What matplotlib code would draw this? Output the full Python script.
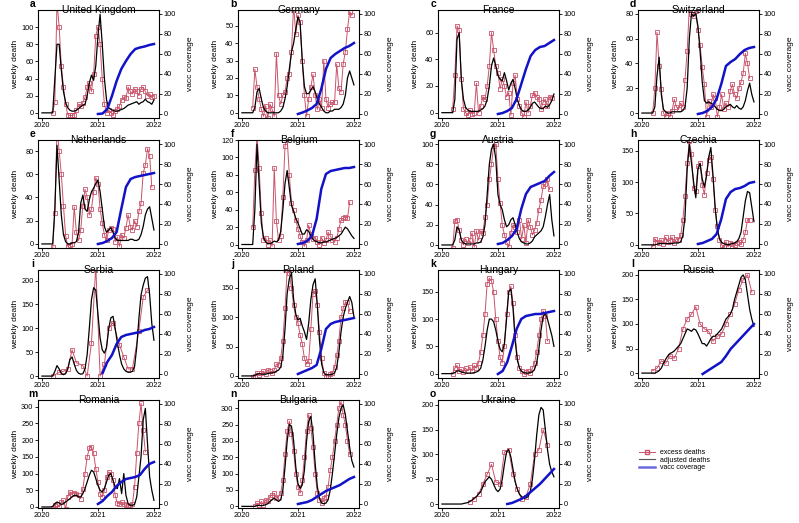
import numpy as np
import matplotlib
matplotlib.use("Agg")
import matplotlib.pyplot as plt
from matplotlib.lines import Line2D

plt.rcParams['font.family'] = ['Liberation Sans', 'DejaVu Sans']

N = None
# biweekly time grid (2020.0 .. 2022.0) and monthly grid for vaccination
weeks = 2020 + np.arange(53) / 26.0
months = 2021 + np.arange(13) / 12.0

# ---- a United Kingdom
uk_excess = [N, N, N, N, N, 0, 13, 130, 100, 55, 30, 10, -2,
             -3, -3, -2, 3, 10, 8, 12, 18, 30, 35, 25, 45, 90,
             100, 80, 40, 10, 0, 3, 0, -2, 2, 5, 8, 15, 18,
             17, 30, 25, 22, 28, 25, 20, 28, 30, 25, 20, 22, 18,
             20]
uk_adjusted = [0, 0, 0, 0, 0, 0, 40, 80, 80, 50, 25, 12, 6,
               3, 2, 2, 3, 5, 7, 9, 10, 20, 35, 44, 38, 55,
               90, 115, 80, 40, 15, 6, 4, 3, 2, 2, 3, 4, 5,
               7, 9, 10, 11, 12, 13, 10, 12, 13, 16, 13, 12, 10,
               15]
uk_vacc = [0, 0.5, 5, 18, 33, 45, 53, 60, 65, 66.5, 67.5, 69, 70]

# ---- b Germany
de_excess = [N, N, N, N, N, 3, 25, 15, 8, 2, -2, 4, -3,
             5, 2, -2, 34, 10, 5, 10, 12, 20, 22, 35, 62, 45,
             56, 52, 30, 10, -2, 8, 15, 22, 10, 2, 8, 3, 30,
             8, 3, 5, 6, 6, 28, 14, 12, 28, 35, 48, 58, 56,
             N]
de_adjusted = [0, 0, 0, 0, 0, 0, 3, 12, 14, 8, 3, 1, 0,
               0, 0, 0, 0, 0, 1, 3, 8, 15, 25, 35, 40, 48,
               55, 52, 30, 15, 11, 11, 13, 15, 12, 8, 5, 3, 1,
               0, 0, 1, 1, 2, 2, 2, 3, 5, 10, 20, 24, 20,
               16]
de_vacc = [0, 1.5, 3.5, 6, 10, 25, 45, 56, 60, 63, 66, 68, 71]

# ---- c France
fr_excess = [N, N, N, N, N, 3, 28, 65, 62, 25, 3, 0, -2,
             2, -1, 0, 22, 0, 5, 12, 10, 20, 35, 60, 47, 35,
             30, 18, 25, 20, 12, 15, -2, 22, 28, 10, 5, 0, -3,
             8, 0, 5, 13, 15, 12, 10, 3, 8, 10, 5, 12, 11,
             N]
fr_adjusted = [0, 0, 0, 0, 0, 0, 10, 55, 60, 25, 10, 4, 2,
               1, 1, 1, 1, 1, 2, 3, 5, 10, 20, 35, 41, 35,
               28, 25, 24, 30, 24, 17, 22, 25, 18, 10, 5, 2, 1,
               1, 2, 4, 7, 8, 6, 4, 3, 3, 5, 4, 6, 9,
               14]
fr_vacc = [0, 1, 3, 6, 15, 30, 45, 58, 64, 67, 68, 71, 74]

# ---- d Switzerland
ch_excess = [N, N, N, N, N, 0, 20, 65, 38, 19, 0, -3, 0,
             -3, 2, 11, 5, 3, 8, 5, 27, 50, 85, 80, 78, 82,
             67, 55, 37, 23, -3, 10, 5, 15, 12, -3, 5, 15, 3,
             8, 5, 18, 23, 15, 12, 20, 25, 32, 48, 40, 28, N,
             N]
ch_adjusted = [0, 0, 0, 0, 0, 0, 5, 30, 45, 15, 3, 1, 0,
               0, 1, 1, 1, 1, 1, 2, 5, 20, 60, 80, 78, 80,
               70, 50, 25, 10, 8, 9, 8, 7, 5, 3, 2, 2, 3,
               5, 6, 7, 5, 4, 6, 4, 3, 5, 10, 18, 24, 15,
               9]
ch_vacc = [0, 1, 3, 7, 15, 30, 48, 52, 55, 60, 64, 66, 67]

# ---- e Netherlands
nl_excess = [N, N, N, N, N, -3, 27, 100, 80, 60, 33, 7, -2,
             -1, 0, 32, 10, 3, 12, 33, 47, 40, 25, 30, 45, 57,
             52, 30, 18, 8, 3, 12, 14, 13, 2, 6, -2, 8, 5,
             14, 25, 15, 12, 20, 15, 28, 35, 61, 68, 82, 76, 49,
             N]
nl_adjusted = [0, 0, 0, 0, 0, 0, 30, 85, 55, 25, 8, 2, 0,
               0, 1, 1, 2, 10, 35, 42, 30, 28, 38, 45, 48, 52,
               55, 45, 30, 15, 10, 12, 14, 10, 5, 3, 3, 3, 3,
               3, 3, 4, 4, 3, 3, 4, 8, 15, 25, 30, 32, 22,
               12]
nl_vacc = [0, 1, 3, 6, 12, 35, 57, 65, 67, 68, 69, 70, 71]

# ---- f Belgium
be_excess = [N, N, N, N, N, 20, 85, 125, 88, 36, 5, 8, 0,
             5, -2, 88, 27, 5, 10, 55, 113, 122, 80, 48, 40, 28,
             18, 10, 3, -2, 5, 22, 12, 6, 8, 3, 0, 8, 2,
             5, 14, 10, 5, 3, 8, 18, 28, 30, 32, 30, 49, N,
             N]
be_adjusted = [0, 0, 0, 0, 0, 0, 40, 115, 70, 25, 8, 3, 1,
               1, 2, 4, 3, 5, 15, 40, 70, 85, 65, 45, 38, 30,
               25, 18, 12, 12, 17, 15, 10, 6, 4, 3, 2, 2, 3,
               3, 4, 5, 6, 7, 8, 10, 12, 16, 20, 18, 14, 10,
               7]
be_vacc = [0, 1, 3, 8, 25, 55, 70, 73, 74, 75, 76, 76, 77]

# ---- g Austria
at_excess = [N, N, N, N, N, -3, 24, 25, 15, 5, 0, 6, 2,
             5, 12, -2, 14, 5, 14, 12, 28, 40, 65, 80, 98, 100,
             65, 42, 20, 10, 3, -2, 12, 20, 18, 13, 25, 6, 20,
             2, 25, 18, 10, 15, 22, 35, 45, 58, 60, 65, 55, N,
             N]
at_adjusted = [0, 0, 0, 0, 0, 0, 5, 18, 15, 5, 2, 1, 1,
               1, 1, 1, 2, 2, 3, 8, 20, 50, 80, 95, 100, 85,
               50, 40, 35, 25, 18, 20, 25, 27, 20, 12, 6, 3, 2,
               1, 1, 2, 4, 8, 10, 12, 14, 18, 28, 40, 50, 25,
               9]
at_vacc = [0, 1, 4, 8, 15, 35, 50, 57, 59, 61, 63, 68, 72]

# ---- h Czechia
cz_excess = [N, N, N, N, N, -3, 10, 5, 3, 8, 2, 12, 5,
             8, 12, 3, 10, 8, 15, 40, 78, 130, 165, 145, 90, 85,
             125, 130, 95, 80, 115, 135, 140, 105, 55, 30, 8, 0, -3,
             5, -3, 3, 2, 0, 3, 5, 2, 8, 20, 40, 40, N,
             N]
cz_adjusted = [0, 0, 0, 0, 0, 0, 0, 1, 2, 2, 2, 2, 2,
               2, 2, 3, 3, 3, 5, 15, 45, 120, 160, 130, 100, 75,
               120, 130, 105, 92, 110, 140, 155, 110, 60, 25, 10, 4, 2,
               1, 0, 1, 2, 3, 5, 10, 20, 45, 70, 85, 83, 60,
               37]
cz_vacc = [0, 1, 3, 5, 10, 25, 45, 52, 55, 56, 58, 61, 62]

# ---- i Serbia (monthly excess)
rs_excess = [N, N, N, N, N, 0, N, N, 8, N, 10, N, 15,
             N, 55, N, 28, N, N, 22, N, 0, N, 70, N, 230,
             N, 0, N, 25, N, 100, N, 112, N, N, 65, N, 40,
             N, 15, N, 15, N, N, 95, N, 165, N, 180, N, N,
             N]
rs_adjusted = [0, 0, 0, 0, 0, 0, 10, 22, 15, 5, 3, 5, 15,
               35, 40, 25, 12, 6, 4, 5, 15, 45, 100, 160, 185, 180,
               130, 80, 55, 48, 60, 100, 122, 125, 100, 70, 45, 25, 15,
               10, 8, 8, 10, 20, 60, 120, 170, 190, 205, 208, 170, 110,
               75]
rs_vacc = [N, 1, 12, 19, 30, 37, 39, 40, 41, 42, 44, 45, 47]

# ---- j Poland
pl_excess = [N, N, N, N, N, -2, 0, 5, 2, 5, 8, 3, 10,
             8, 5, 10, 20, 18, 30, 60, 115, 180, 175, 150, 120, 100,
             90, 70, 55, 30, 20, 25, 80, 140, 145, 120, 75, 30, 5,
             0, 0, 3, 5, 15, 35, 60, 100, 115, 125, 125, 110, N,
             N]
pl_adjusted = [0, 0, 0, 0, 0, 0, 1, 3, 4, 3, 3, 3, 4,
               5, 5, 6, 8, 10, 15, 35, 80, 140, 165, 175, 130, 105,
               95, 98, 85, 75, 62, 90, 130, 155, 165, 120, 60, 20, 6,
               2, 2, 2, 3, 5, 15, 40, 75, 100, 115, 125, 135, 125,
               100]
pl_vacc = [0, 2, 4, 6, 9, 25, 45, 50, 52, 53, 54, 55, 56]

# ---- k Hungary
hu_excess = [N, N, N, N, N, 0, 10, 15, 5, 8, 3, 10, 5,
             12, 5, 15, 10, 20, 40, 70, 110, 165, 175, 170, 150, 100,
             60, 30, 20, 50, 110, 150, 160, 130, 70, 30, 10, 5, 0,
             3, 5, 2, 10, 20, 40, 70, 100, 115, 105, 60, N, N,
             N]
hu_adjusted = [0, 0, 0, 0, 0, 0, 2, 5, 5, 3, 2, 1, 1,
               1, 1, 2, 3, 5, 10, 25, 50, 80, 100, 100, 95, 80,
               60, 45, 40, 55, 100, 150, 155, 120, 60, 25, 10, 4, 2,
               1, 1, 2, 3, 8, 20, 45, 80, 105, 110, 100, 85, 70,
               50]
hu_vacc = [0, 3, 12, 28, 45, 55, 58, 59, 60, 60, 61, 62, 63]

# ---- l Russia (monthly excess)
ru_excess = [N, N, N, N, N, 5, N, 10, N, 25, N, 20, N,
             35, N, 30, N, 50, N, 90, N, 110, N, 120, N, 135,
             N, 100, N, 90, N, 85, N, 65, N, 75, N, 80, N,
             100, N, 120, N, 140, N, 170, N, 190, N, 200, N, 165,
             N]
ru_adjusted = [0, 0, 0, 0, 0, 0, 0, 2, 5, 10, 20, 28, 35,
               40, 42, 45, 50, 55, 60, 70, 80, 90, 88, 85, 90, 88,
               80, 70, 60, 60, 55, 62, 70, 75, 75, 80, 85, 90, 100,
               110, 115, 120, 130, 150, 165, 180, 195, 200, 190, 160, 130, 110,
               95]
ru_vacc = [N, 0, 3, 6, 9, 12, 18, 25, 30, 35, 40, 45, 50]

# ---- m Romania
ro_excess = [N, N, N, N, N, -2, 5, 10, 0, 15, 20, -5, 30,
             45, 40, 42, 40, 35, 25, 55, 100, 150, 175, 180, 160, 115,
             75, 40, 30, 50, 90, 105, 100, 80, 35, 12, 10, 15, 8,
             5, 2, 5, 10, 60, 160, 250, 310, 230, 165, N, N, N,
             N]
ro_adjusted = [0, 0, 0, 0, 0, 2, 10, 15, 12, 8, 10, 15, 20,
               25, 30, 35, 35, 30, 30, 40, 55, 75, 95, 110, 105, 85,
               65, 50, 45, 55, 75, 95, 100, 80, 60, 55, 85, 40, 100,
               35, 10, 5, 5, 8, 30, 90, 150, 260, 295, 190, 90, 50,
               20]
ro_vacc = [0, 3, 8, 12, 18, 22, 25, 26, 27, 29, 35, 40, 42]

# ---- n Bulgaria
bg_excess = [N, N, N, N, N, N, 0, 10, 5, 15, 5, 20, 15,
             30, 35, 40, 25, 30, 40, 80, 160, 230, 260, 220, 170, 100,
             60, 40, 80, 150, 230, 280, 240, 180, 100, 40, 20, 10, 25,
             30, 60, 110, 150, 200, 250, 300, 320, 280, 250, 200, 160, N,
             N]
bg_adjusted = [0, 0, 0, 0, 0, 0, 0, 2, 3, 2, 3, 5, 8,
               15, 20, 25, 20, 15, 20, 50, 120, 200, 250, 245, 200, 120,
               70, 55, 65, 110, 200, 260, 275, 220, 130, 60, 25, 10, 8,
               10, 20, 50, 100, 160, 220, 270, 300, 310, 280, 230, 180, 140,
               120]
bg_vacc = [0, 1, 2, 4, 7, 10, 13, 15, 17, 19, 22, 25, 27]

# ---- o Ukraine (monthly excess)
ua_excess = [N, N, N, N, N, N, N, N, N, N, N, N, N,
             5, N, 10, N, 20, N, 40, N, 60, N, 80, N, 45,
             N, 40, N, 105, N, 110, N, 60, N, 30, N, 10, N,
             15, N, 40, N, 100, N, 110, N, 150, N, 120, N, N,
             N]
ua_adjusted = [0, 0, 0, 0, 0, 0, 0, 0, 0, 0, 1, 2, 3,
               5, 8, 12, 15, 20, 25, 35, 45, 50, 55, 50, 40, 30,
               25, 30, 50, 80, 105, 110, 95, 70, 45, 30, 20, 15, 12,
               12, 15, 25, 50, 90, 140, 180, 195, 190, 150, 110, 80, 65,
               55]
ua_vacc = [N, N, 0, 1, 3, 5, 8, 12, 16, 20, 25, 30, 35]

# panel letter, country, series, y-limits, y-ticks
panels = [
    ("a", "United Kingdom", uk_excess, uk_adjusted, uk_vacc, (-6, 120), range(0, 101, 20)),
    ("b", "Germany", de_excess, de_adjusted, de_vacc, (-3, 59), range(0, 51, 10)),
    ("c", "France", fr_excess, fr_adjusted, fr_vacc, (-4, 77), range(0, 61, 20)),
    ("d", "Switzerland", ch_excess, ch_adjusted, ch_vacc, (-4, 83), range(0, 81, 20)),
    ("e", "Netherlands", nl_excess, nl_adjusted, nl_vacc, (-3.5, 89.5), range(0, 81, 20)),
    ("f", "Belgium", be_excess, be_adjusted, be_vacc, (-4, 120), range(0, 121, 20)),
    ("g", "Austria", at_excess, at_adjusted, at_vacc, (-3, 104), range(0, 101, 20)),
    ("h", "Czechia", cz_excess, cz_adjusted, cz_vacc, (-5, 167), range(0, 151, 50)),
    ("i", "Serbia", rs_excess, rs_adjusted, rs_vacc, (-4, 222), range(0, 201, 50)),
    ("j", "Poland", pl_excess, pl_adjusted, pl_vacc, (-3.5, 180), range(0, 151, 50)),
    ("k", "Hungary", hu_excess, hu_adjusted, hu_vacc, (-8, 190), range(0, 151, 50)),
    ("l", "Russia", ru_excess, ru_adjusted, ru_vacc, (-10, 210), range(0, 201, 50)),
    ("m", "Romania", ro_excess, ro_adjusted, ro_vacc, (-3, 320), range(0, 301, 50)),
    ("n", "Bulgaria", bg_excess, bg_adjusted, bg_vacc, (-5, 325), range(0, 301, 50)),
    ("o", "Ukraine", ua_excess, ua_adjusted, ua_vacc, (-8, 210), range(0, 201, 50)),
]

RED = '#c9536a'
BLUE = '#1212c8'
W, H = 799.0, 523.0
col_left = [38, 238, 438, 638]
row_top = [10, 140, 270, 400]
aw, ah = 121, 108
label_font = ['Liberation Sans Narrow', 'Liberation Sans', 'DejaVu Sans']

fig = plt.figure(figsize=(7.99, 5.23), dpi=100)

for i, (letter, name, exc, adj, vac, ylim, yt) in enumerate(panels):
    r, c = divmod(i, 4)
    l = col_left[c] / W
    b = 1 - (row_top[r] + ah) / H
    ax = fig.add_axes([l, b, aw / W, ah / H])

    adj = np.array(adj, dtype=float)
    exc = np.array(exc, dtype=float)
    vac = np.array(vac, dtype=float)
    m = ~np.isnan(exc)
    ax.plot(weeks[m], exc[m], color=RED, lw=0.7, marker='s', ms=3,
            mfc='none', mec=RED, mew=0.6)
    ax.plot(weeks, adj, color='black', lw=0.9)
    ax.set_xlim(2019.93, 2022.09)
    ax.set_ylim(*ylim)
    ax.set_xticks([2020, 2021, 2022])
    ax.set_yticks(list(yt))
    ax.tick_params(labelsize=5.3, length=2, width=0.6, pad=1.2)
    for s in ax.spines.values():
        s.set_linewidth(0.7)

    ax2 = ax.twinx()
    mv = ~np.isnan(vac)
    ax2.plot(months[mv], vac[mv], color=BLUE, lw=1.8)
    ax2.set_ylim(-4, 104)
    ax2.set_yticks(range(0, 101, 20))
    ax2.tick_params(labelsize=5.3, length=2, width=0.6, pad=1.2)

    ax.text(0.5, 1.0, name, transform=ax.transAxes, ha='center',
            va='center', fontsize=7.5)
    ax.text(-5 / aw, 1.06, letter, transform=ax.transAxes, ha='center',
            va='center', fontsize=7.5, fontweight='bold')
    ax.text(-22 / aw, 0.5, 'weekly death', transform=ax.transAxes,
            rotation=90, ha='center', va='center', fontsize=6,
            family=label_font)
    ax.text(153 / aw, 0.5, 'vacc coverage', transform=ax.transAxes,
            rotation=90, ha='center', va='center', fontsize=6,
            family=label_font)

handles = [Line2D([], [], color=RED, lw=0.7, marker='s', ms=2.5, mfc='none'),
           Line2D([], [], color='#555555', lw=0.8),
           Line2D([], [], color='#6a6ae0', lw=1.8)]
fig.legend(handles, ['excess deaths', 'adjusted deaths', 'vacc coverage'],
           loc='upper left', bbox_to_anchor=(636 / W, 1 - 446 / H),
           frameon=False, fontsize=5, handlelength=2.2, labelspacing=0.05,
           handletextpad=0.8, borderpad=0)

fig.savefig('out.png', dpi=100)
